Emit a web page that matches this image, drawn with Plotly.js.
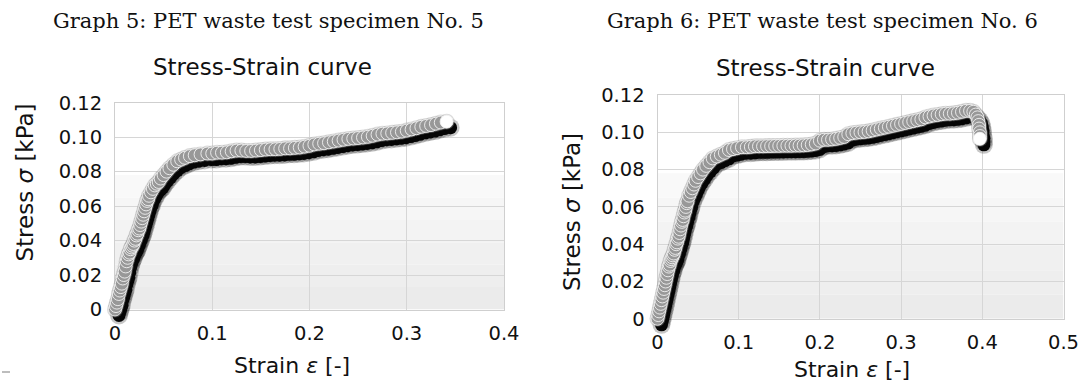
<!DOCTYPE html>
<html><head><meta charset="utf-8">
<script src="https://cdn.plot.ly/plotly-3.0.1.min.js"></script>
<style>html,body{margin:0;padding:0;background:#fff}#chart{width:1084px;height:385px}</style>
</head><body><div id="chart"></div>
<script>
// ---------- data ----------
const strain5 = [0.000,0.001,0.002,0.003,0.004,0.005,0.006,0.007,0.008,0.009,0.010,0.011,0.012,0.013,0.014,0.015,0.016,0.017,0.018,0.019,0.020,0.021,0.022,0.023,0.024,0.025,0.026,0.027,0.028,0.029,0.030,0.031,0.032,0.033,0.034,0.035,0.037,0.039,0.041,0.043,0.045,0.047,0.050,0.053,0.056,0.060,0.064,0.068,0.072,0.077,0.082,0.088,
  0.095,0.100,0.105,0.110,0.115,0.120,0.125,0.130,0.135,0.140,0.145,0.150,0.155,0.160,0.165,0.170,0.175,0.180,0.185,0.190,0.195,0.200,0.205,0.210,0.215,0.220,0.225,0.230,0.235,0.240,0.245,0.250,0.255,0.260,0.265,0.270,0.275,0.280,0.285,0.290,0.295,0.300,0.305,0.310,0.315,0.320,0.325,0.330,0.335,0.341];
const stress5 = [0.000,0.002,0.004,0.006,0.009,0.011,0.013,0.015,0.018,0.020,0.022,0.025,0.028,0.030,0.032,0.033,0.035,0.036,0.037,0.038,0.040,0.041,0.043,0.044,0.046,0.047,0.049,0.051,0.053,0.055,0.057,0.059,0.061,0.063,0.064,0.066,0.068,0.070,0.072,0.073,0.074,0.076,0.078,0.080,0.082,0.084,0.086,0.087,0.088,0.089,0.0895,0.0900,
  0.0905,0.0905,0.0910,0.0910,0.0912,0.0918,0.0922,0.0922,0.0920,0.0920,0.0922,0.0925,0.0928,0.0930,0.0930,0.0932,0.0935,0.0935,0.0938,0.0940,0.0945,0.0950,0.0958,0.0962,0.0965,0.0970,0.0975,0.0980,0.0985,0.0990,0.0992,0.0995,0.0998,0.1002,0.1008,0.1015,0.1020,0.1022,0.1025,0.1028,0.1032,0.1038,0.1045,0.1052,0.1060,0.1065,0.1070,0.1078,0.1085,0.1090];

const strain6 = [0.000,0.001,0.002,0.003,0.004,0.005,0.006,0.007,0.008,0.009,0.010,0.011,0.012,0.013,0.014,0.015,0.016,0.017,0.018,0.019,0.020,0.021,0.022,0.023,0.024,0.025,0.026,0.027,0.028,0.029,0.030,0.031,0.032,0.033,0.034,0.035,0.036,0.037,0.039,0.041,0.043,0.045,0.047,0.050,0.053,0.056,0.060,0.064,0.068,0.073,0.078,0.083,0.088,0.093,0.098,0.104,
  0.110,0.115,0.120,0.125,0.130,0.135,0.140,0.145,0.150,0.155,0.160,0.165,0.170,0.175,0.180,0.185,0.190,0.195,0.200,0.205,0.210,0.215,0.220,0.225,0.230,0.235,0.240,0.245,0.250,0.255,0.260,0.265,0.270,0.275,0.280,0.285,0.290,0.295,0.300,0.305,0.310,0.315,0.320,0.325,0.330,0.335,0.340,0.345,0.350,0.355,0.360,0.365,0.370,0.375,0.380,0.385,0.389,0.392,0.394,0.395,0.396,0.396,0.397,0.397,0.397];
const stress6 = [0.000,0.002,0.004,0.006,0.008,0.010,0.012,0.014,0.016,0.018,0.020,0.022,0.024,0.026,0.028,0.029,0.031,0.032,0.033,0.034,0.035,0.037,0.038,0.040,0.041,0.043,0.044,0.046,0.048,0.050,0.052,0.053,0.055,0.057,0.058,0.060,0.062,0.063,0.066,0.068,0.070,0.072,0.074,0.076,0.078,0.080,0.082,0.084,0.086,0.087,0.088,0.089,0.0905,0.0910,0.0915,0.0920,
  0.0920,0.0922,0.0925,0.0925,0.0925,0.0926,0.0926,0.0927,0.0927,0.0928,0.0928,0.0928,0.0929,0.0929,0.0930,0.0932,0.0935,0.0940,0.0955,0.0960,0.0960,0.0962,0.0965,0.0970,0.0975,0.0990,0.0995,0.0998,0.1000,0.1002,0.1005,0.1010,0.1015,0.1020,0.1025,0.1030,0.1035,0.1040,0.1045,0.1050,0.1055,0.1060,0.1065,0.1070,0.1080,0.1085,0.1090,0.1093,0.1097,0.1100,0.1100,0.1102,0.1105,0.1110,0.1115,0.1115,0.1110,0.1095,0.1080,0.1060,0.1040,0.1020,0.1000,0.0980,0.0965];

const xTicks5 = [0, 0.1, 0.2, 0.3, 0.4];
const xTickText5 = ['0', '0.1', '0.2', '0.3', '0.4'];
const xTicks6 = [0, 0.1, 0.2, 0.3, 0.4, 0.5];
const xTickText6 = ['0', '0.1', '0.2', '0.3', '0.4', '0.5'];
const yTicks = [0, 0.02, 0.04, 0.06, 0.08, 0.10, 0.12];
const yTickText = ['0', '0.02', '0.04', '0.06', '0.08', '0.10', '0.12'];

const graphTitles = ['Graph 5: PET waste test specimen No. 5', 'Graph 6: PET waste test specimen No. 6'];
const chartTitle = 'Stress-Strain curve';
const xTitle = 'Strain <i>\u03b5</i> [-]';
const yTitle = 'Stress <i>\u03c3</i> [kPa]';

// background shading bands (stress values, styling only)
const bandEdges = [0, 0.013, 0.026, 0.039, 0.052, 0.065, 0.078];
const bandColors = ['#ebebeb', '#eeeeee', '#f0f0f0', '#f3f3f3', '#f6f6f6', '#f9f9f9'];

// ---------- layout geometry (pixels) ----------
const W = 1084, H = 385;
const panels = [
  {strain: strain5, stress: stress5, xr: [0, 0.4], xt: xTicks5, xtt: xTickText5,
   x0: 115, x1: 504, yTop: 102.7, yBot: 309.5,
   title: graphTitles[0], tX: 268, tY: 21.5, sX: 262.5, sY: 67,
   xtX: 292, xtY: 365, ytX: 24, ytY: 182.5},
  {strain: strain6, stress: stress6, xr: [0, 0.5], xt: xTicks6, xtt: xTickText6,
   x0: 657.5, x1: 1063.5, yTop: 95, yBot: 318.8,
   title: graphTitles[1], tX: 822, tY: 21, sX: 825, sY: 68,
   xtX: 852, xtY: 369, ytX: 572, ytY: 212}
];
const shadowDX = 4, shadowDY = 6;

const fx = p => p / W;
const fy = p => 1 - p / H;

const data = [];
const layout = {
  width: W, height: H,
  margin: {l: 0, r: 0, t: 0, b: 0},
  paper_bgcolor: '#ffffff',
  plot_bgcolor: 'rgba(0,0,0,0)',
  showlegend: false,
  shapes: [],
  annotations: []
};

const tickFont = {family: 'DejaVu Sans, sans-serif', size: 19.5, color: '#111111'};

panels.forEach((p, i) => {
  const n = i * 3 + 1;            // grid subplot
  const ns = n + 1, nm = n + 2;   // shadow subplot, marker subplot
  const ax = k => (k === 1 ? '' : String(k));
  const dom = [fx(p.x0), fx(p.x1)];
  const ydom = [fy(p.yBot), fy(p.yTop)];

  layout['xaxis' + ax(n)] = {
    domain: dom, range: p.xr, anchor: 'y' + ax(n),
    tickvals: p.xt, ticktext: p.xtt, tickfont: tickFont, ticks: '',
    ticklabelstandoff: 6,
    showgrid: true, gridcolor: '#d6d6d6', gridwidth: 1,
    showline: true, linecolor: '#cfcfcf', linewidth: 1, mirror: true,
    zeroline: false, fixedrange: true
  };
  layout['yaxis' + ax(n)] = {
    domain: ydom, range: [0, 0.12], anchor: 'x' + ax(n),
    tickvals: yTicks, ticktext: yTickText, tickfont: tickFont, ticks: '',
    ticklabelstandoff: 8,
    showgrid: true, gridcolor: '#d6d6d6', gridwidth: 1,
    showline: true, linecolor: '#cfcfcf', linewidth: 1, mirror: true,
    zeroline: false, fixedrange: true
  };
  layout['xaxis' + ax(ns)] = {domain: [fx(p.x0 + shadowDX), fx(p.x1 + shadowDX)], range: p.xr, anchor: 'y' + ax(ns), visible: false, fixedrange: true};
  layout['yaxis' + ax(ns)] = {domain: [fy(p.yBot + shadowDY), fy(p.yTop + shadowDY)], range: [0, 0.12], anchor: 'x' + ax(ns), visible: false, fixedrange: true};
  layout['xaxis' + ax(nm)] = {domain: dom, range: p.xr, anchor: 'y' + ax(nm), visible: false, fixedrange: true};
  layout['yaxis' + ax(nm)] = {domain: ydom, range: [0, 0.12], anchor: 'x' + ax(nm), visible: false, fixedrange: true};

  // background shading bands
  for (let b = 0; b < bandColors.length; b++) {
    layout.shapes.push({type: 'rect', layer: 'below', xref: 'x' + ax(n), yref: 'y' + ax(n),
      x0: p.xr[0], x1: p.xr[1], y0: bandEdges[b], y1: bandEdges[b + 1],
      fillcolor: bandColors[b], line: {width: 0}});
  }

  // empty trace to hold grid subplot
  data.push({type: 'scatter', x: [], y: [], xaxis: 'x' + ax(n), yaxis: 'y' + ax(n), hoverinfo: 'skip'});
  // shadow (blur halo + core)
  data.push({type: 'scatter', mode: 'markers', x: p.strain, y: p.stress, xaxis: 'x' + ax(ns), yaxis: 'y' + ax(ns),
    marker: {size: 18, color: 'rgba(0,0,0,0.22)', line: {width: 0}}, hoverinfo: 'skip', cliponaxis: false});
  data.push({type: 'scatter', mode: 'markers', x: p.strain, y: p.stress, xaxis: 'x' + ax(ns), yaxis: 'y' + ax(ns),
    marker: {size: 13, color: '#050505', line: {width: 0}}, hoverinfo: 'skip', cliponaxis: false});
  // gray halo around the markers
  data.push({type: 'scatter', mode: 'markers', x: p.strain, y: p.stress, xaxis: 'x' + ax(nm), yaxis: 'y' + ax(nm),
    marker: {size: 16, color: 'rgba(150,150,150,0.35)', line: {width: 0}}, hoverinfo: 'skip', cliponaxis: false});
  // main markers
  const fills = p.strain.map((v, k) => (k === p.strain.length - 1 ? '#ffffff' : '#989898'));
  data.push({type: 'scatter', mode: 'markers', x: p.strain, y: p.stress, xaxis: 'x' + ax(nm), yaxis: 'y' + ax(nm),
    marker: {size: 13, color: fills, line: {width: 0.9, color: '#f2f2f2'}}, hoverinfo: 'skip', cliponaxis: false});

  // texts
  layout.annotations.push({text: p.title, xref: 'paper', yref: 'paper', x: fx(p.tX), y: fy(p.tY),
    xanchor: 'center', yanchor: 'middle', showarrow: false,
    font: {family: 'DejaVu Serif, serif', size: 21, color: '#111111'}});
  layout.annotations.push({text: chartTitle, xref: 'paper', yref: 'paper', x: fx(p.sX), y: fy(p.sY),
    xanchor: 'center', yanchor: 'middle', showarrow: false,
    font: {family: 'DejaVu Sans, sans-serif', size: 23, color: '#111111'}});
  layout.annotations.push({text: xTitle, xref: 'paper', yref: 'paper', x: fx(p.xtX), y: fy(p.xtY),
    xanchor: 'center', yanchor: 'middle', showarrow: false,
    font: {family: 'DejaVu Sans, sans-serif', size: 22, color: '#111111'}});
  layout.annotations.push({text: yTitle, xref: 'paper', yref: 'paper', x: fx(p.ytX), y: fy(p.ytY),
    xanchor: 'center', yanchor: 'middle', showarrow: false, textangle: -90,
    font: {family: 'DejaVu Sans, sans-serif', size: 23, color: '#111111'}});
});

// small grey dash at the bottom-left edge of the reference
layout.shapes.push({type: 'line', xref: 'paper', yref: 'paper', x0: fx(2), x1: fx(10), y0: fy(372), y1: fy(372),
  line: {color: '#bdbdbd', width: 2}});

Plotly.newPlot('chart', data, layout, {staticPlot: true, displayModeBar: false});
</script>
</body></html>
